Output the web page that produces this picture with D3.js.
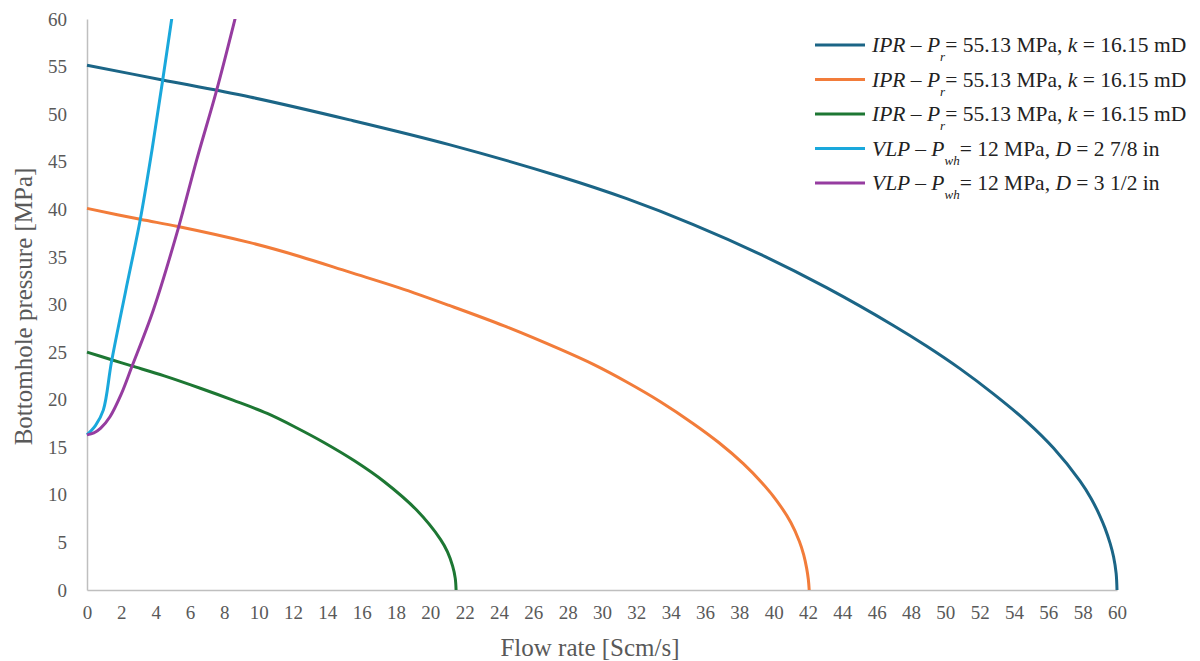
<!DOCTYPE html>
<html>
<head>
<meta charset="utf-8">
<script src="https://cdn.jsdelivr.net/npm/d3@7"></script>
<style>
  html, body { margin: 0; padding: 0; background: #fff; }
  svg { display: block; }
</style>
</head>
<body>
<svg id="chart" width="1200" height="661"></svg>
<script>
// ---- Data ----
const xTicks = d3.range(0, 61, 2);
const yTicks = d3.range(0, 61, 5);

const iprHighQ = [0, 4.4, 9.5, 15.3, 21.1, 27.55, 31.44, 35.32, 39.2, 43.08, 46.97, 48.9, 50.85, 52.8, 54.74, 56.3, 57.84, 58.5, 59.0, 59.3, 59.6, 59.8, 59.95, 60];
const iprHighP = [55.13, 53.6, 51.8, 49.4, 46.8, 43.45, 41.12, 38.4, 35.3, 31.77, 27.8, 25.64, 23.26, 20.61, 17.7, 14.92, 11.47, 9.6, 7.8, 6.5, 4.9, 3.5, 1.75, 0];

const iprMidQ = [0, 3.1, 5.3, 9.5, 12.4, 15.3, 18.2, 21.1, 24.3, 27.55, 29.5, 31.44, 33.4, 35.32, 36.8, 38.23, 39.3, 40.17, 41.0, 41.5, 41.75, 41.92, 42.02, 42.07];
const iprMidP = [40.1, 38.95, 38.2, 36.5, 35.05, 33.4, 31.75, 29.9, 27.75, 25.3, 23.7, 21.85, 19.78, 17.48, 15.5, 13.28, 11.3, 9.4, 7.1, 5.1, 3.7, 2.3, 1.1, 0];

const iprLowQ = [0, 1.43, 2.6, 4.5, 6.6, 8.5, 10.5, 12.2, 13.8, 15.6, 17.3, 19.2, 20.6, 21.0, 21.3, 21.45, 21.5];
const iprLowP = [25.0, 24.2, 23.55, 22.5, 21.2, 19.95, 18.55, 17.05, 15.5, 13.55, 11.4, 8.4, 5.3, 4.0, 2.5, 1.25, 0];

const vlpSmallQ = [0, 0.5, 0.95, 1.43, 2.25, 3.1, 3.8, 4.41, 4.95];
const vlpSmallP = [16.3, 17.3, 18.9, 24.0, 31.4, 38.9, 46.4, 53.6, 60.2];

const vlpLargeQ = [0, 0.4, 0.8, 1.34, 2.0, 2.6, 3.86, 5.3, 6.39, 7.55, 8.65];
const vlpLargeP = [16.3, 16.5, 17.0, 18.2, 20.6, 23.4, 29.4, 37.9, 45.2, 52.5, 60.2];

const seriesNames = ["iprHigh", "iprMid", "iprLow", "vlpSmall", "vlpLarge"];
const seriesColors = ["#1b6586", "#f27c3a", "#1d7733", "#1aa8dc", "#963ca0"];

const legendItems = [
  [{t: "IPR – P", i: true}, {t: "r", i: true, sub: true}, {t: "= 55.13 MPa, "}, {t: "k", i: true}, {t: " = 16.15 mD"}],
  [{t: "IPR – P", i: true}, {t: "r", i: true, sub: true}, {t: "= 55.13 MPa, "}, {t: "k", i: true}, {t: " = 16.15 mD"}],
  [{t: "IPR – P", i: true}, {t: "r", i: true, sub: true}, {t: "= 55.13 MPa, "}, {t: "k", i: true}, {t: " = 16.15 mD"}],
  [{t: "VLP – P", i: true}, {t: "wh", i: true, sub: true}, {t: "= 12 MPa, "}, {t: "D", i: true}, {t: " = 2 7/8 in"}],
  [{t: "VLP – P", i: true}, {t: "wh", i: true, sub: true}, {t: "= 12 MPa, "}, {t: "D", i: true}, {t: " = 3 1/2 in"}]
];

const xTitle = "Flow rate [Scm/s]";
const yTitle = "Bottomhole pressure [MPa]";

// ---- Layout ----
const svg = d3.select("#chart");
const pLeft = 87, pRight = 1117, pTop = 19, pBottom = 590;
const x = d3.scaleLinear().domain([0, 60]).range([pLeft, pRight]);
const y = d3.scaleLinear().domain([0, 60]).range([pBottom, pTop]);

const serif = "'Liberation Serif', 'Times New Roman', serif";
const textColor = "#595959";
const axisColor = "#bfbfbf";

svg.append("defs").append("clipPath").attr("id", "plotClip")
  .append("rect").attr("x", pLeft - 5).attr("y", pTop).attr("width", pRight - pLeft + 10).attr("height", pBottom - pTop + 5);

// axes
const xAxis = svg.append("g").attr("transform", `translate(0,${pBottom})`)
  .call(d3.axisBottom(x).tickValues(xTicks).tickSize(0).tickPadding(16).tickFormat(d3.format("d")));
const yAxis = svg.append("g").attr("transform", `translate(${pLeft},0)`)
  .call(d3.axisLeft(y).tickValues(yTicks).tickSize(0).tickPadding(20).tickFormat(d3.format("d")));
[xAxis, yAxis].forEach(g => {
  g.attr("font-family", serif).attr("font-size", 19);
  g.select(".domain").attr("stroke", axisColor).attr("stroke-width", 1.5);
  g.selectAll("text").style("font-family", serif).style("font-size", "19px").attr("fill", textColor);
});

// axis titles
svg.append("text").attr("x", 590).attr("y", 656)
  .attr("text-anchor", "middle").style("font-family", serif).style("font-size", "25px").attr("fill", textColor)
  .text(xTitle);
svg.append("text").attr("transform", `translate(32,${(pTop + pBottom) / 2 + 2}) rotate(-90)`)
  .attr("text-anchor", "middle").style("font-family", serif).style("font-size", "25px").attr("fill", textColor)
  .text(yTitle);

// lines
const seriesData = {
  iprHigh: iprHighQ.map((q, i) => [q, iprHighP[i]]),
  iprMid: iprMidQ.map((q, i) => [q, iprMidP[i]]),
  iprLow: iprLowQ.map((q, i) => [q, iprLowP[i]]),
  vlpSmall: vlpSmallQ.map((q, i) => [q, vlpSmallP[i]]),
  vlpLarge: vlpLargeQ.map((q, i) => [q, vlpLargeP[i]])
};
const line = d3.line().x(d => x(d[0])).y(d => y(d[1])).curve(d3.curveCatmullRom.alpha(0.5));
const plot = svg.append("g").attr("clip-path", "url(#plotClip)");
seriesNames.forEach((name, i) => {
  plot.append("path").datum(seriesData[name])
    .attr("fill", "none").attr("stroke", seriesColors[i]).attr("stroke-width", 3)
    .attr("stroke-linejoin", "round").attr("d", line);
});

// legend
const legend = svg.append("g");
legendItems.forEach((parts, i) => {
  const ly = 45 + i * 34.5;
  legend.append("line").attr("x1", 815).attr("x2", 865).attr("y1", ly).attr("y2", ly)
    .attr("stroke", seriesColors[i]).attr("stroke-width", 3);
  const t = legend.append("text").attr("x", 872).attr("y", ly + 7)
    .style("font-family", serif).style("font-size", "21.5px").attr("fill", "#222");
  parts.forEach((p, j) => {
    const ts = t.append("tspan").text(p.t);
    if (p.i) ts.attr("font-style", "italic");
    if (p.sub) ts.style("font-size", "13px").attr("dy", 9);
    if (j > 0 && parts[j - 1].sub) ts.attr("dy", -9);
  });
});
</script>
</body>
</html>
